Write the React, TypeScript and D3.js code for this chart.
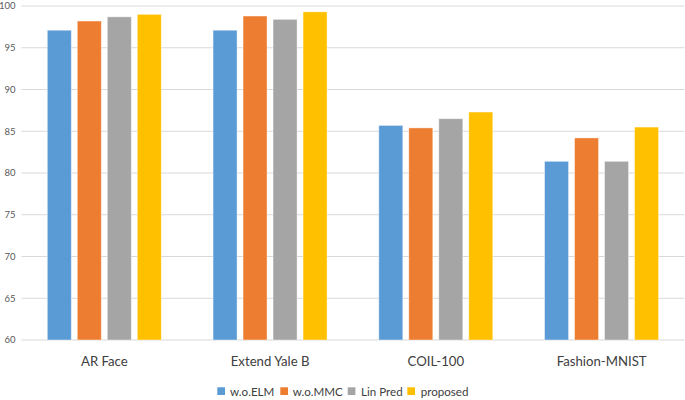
import React from "react";
import * as d3 from "d3";

const categories = ["AR Face", "Extend Yale B", "COIL-100", "Fashion-MNIST"];
const seriesNames = ["w.o.ELM", "w.o.MMC", "Lin Pred", "proposed"];
const seriesColors = ["#5B9BD5", "#ED7D31", "#A5A5A5", "#FFC000"];
const woELM = [97.1, 97.1, 85.7, 81.4];
const woMMC = [98.2, 98.8, 85.4, 84.2];
const linPred = [98.7, 98.4, 86.5, 81.4];
const proposed = [99.0, 99.3, 87.3, 85.5];
const yTicks = [60, 65, 70, 75, 80, 85, 90, 95, 100];

const seriesValues = [woELM, woMMC, linPred, proposed];

const W = 685;
const H = 400;
const FONT = "Lato, 'Open Sans', sans-serif";

export default function App() {
  const x0 = d3.scaleBand<string>().domain(categories).range([21.5, 684.5]);
  const x1 = d3
    .scaleBand<string>()
    .domain(seriesNames)
    .range([25.8, 139.8])
    .paddingInner(0.2)
    .paddingOuter(0);
  const y = d3.scaleLinear().domain([60, 100]).range([340, 6]);

  const legendItems = [
    { x: 217.3, tx: 230 },
    { x: 280.3, tx: 292.7 },
    { x: 347.7, tx: 361 },
    { x: 407.3, tx: 420.7 },
  ];

  return (
    <svg width={W} height={H} style={{ position: "absolute", left: 0, top: 0 }}>
      <rect width={W} height={H} fill="#fff" />
      {yTicks.map((t) => (
        <g key={t}>
          <line x1={21.5} x2={684.5} y1={y(t)} y2={y(t)} stroke="#d9d9d9" strokeWidth={1} />
          <text x={15.5} y={y(t)} dy="0.35em" textAnchor="end" fontSize={9.5} fill="#595959" fontFamily={FONT}>
            {t}
          </text>
        </g>
      ))}
      {categories.map((c, i) => (
        <g key={c} transform={`translate(${x0(c)!},0)`}>
          {seriesNames.map((s, j) => {
            const v = seriesValues[j][i];
            return (
              <rect
                key={s}
                x={x1(s)!}
                y={y(v)}
                width={x1.bandwidth()}
                height={y(60) - y(v)}
                fill={seriesColors[j]}
                stroke="#ffffff"
                strokeOpacity={0.5}
                strokeWidth={0.8}
              />
            );
          })}
          <text
            x={x0.bandwidth() / 2}
            y={361}
            dy="0.35em"
            textAnchor="middle"
            fontSize={13.2}
            fill="#404040"
            fontFamily={FONT}
          >
            {c}
          </text>
        </g>
      ))}
      {seriesNames.map((s, j) => (
        <g key={s}>
          <rect x={legendItems[j].x} y={387.3} width={7.7} height={7.7} fill={seriesColors[j]} />
          <text x={legendItems[j].tx} y={391.5} dy="0.35em" fontSize={11.6} fill="#404040" fontFamily={FONT}>
            {s}
          </text>
        </g>
      ))}
    </svg>
  );
}
